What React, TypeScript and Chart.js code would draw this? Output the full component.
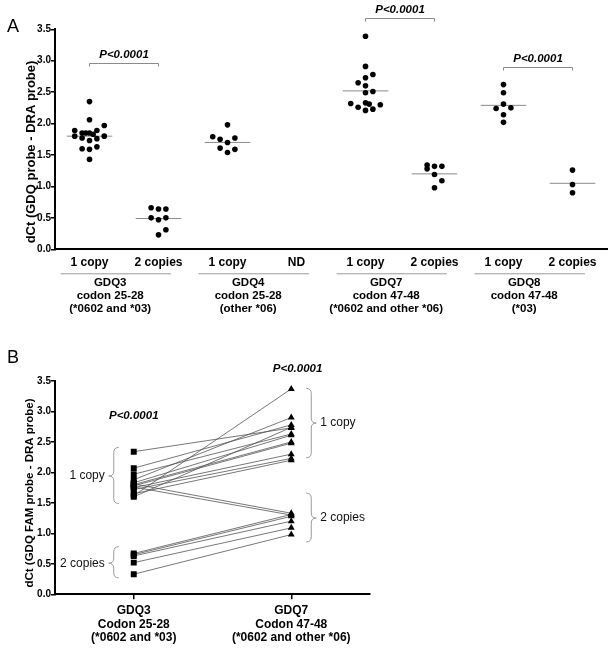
import React, { useEffect, useRef } from 'react';
import { Chart, registerables } from 'chart.js';

Chart.register(...registerables);

const FONT = "'Liberation Sans', Arial, Helvetica, sans-serif";
Chart.defaults.font.family = FONT;
Chart.defaults.color = '#000';

// ---------------- Panel A data ----------------
const tickLabelsA = ['1 copy', '2 copies', '1 copy', 'ND', '1 copy', '2 copies', '1 copy', '2 copies'];
const groupLabelsA = [
  ['GDQ3', 'codon 25-28', '(*0602 and *03)'],
  ['GDQ4', 'codon 25-28', '(other *06)'],
  ['GDQ7', 'codon 47-48', '(*0602 and other *06)'],
  ['GDQ8', 'codon 47-48', '(*03)'],
];
const gdq3OneCopy = [2.35, 2.06, 1.97, 1.89, 1.89, 1.85, 1.85, 1.85, 1.83, 1.80, 1.77, 1.73, 1.76, 1.80, 1.60, 1.59, 1.63, 1.43];
const gdq3OneCopyJitter = [0, 0, 2, -2, 1, -1, -0.5, 0, 0.5, -2, -1, 0, 1, 2, -1, 0, 1, 0];
const gdq3TwoCopies = [0.66, 0.64, 0.64, 0.50, 0.47, 0.50, 0.31, 0.23];
const gdq3TwoCopiesJitter = [-1, 0, 1, -1, 0, 1, 1, 0];
const gdq4OneCopy = [1.98, 1.79, 1.75, 1.77, 1.70, 1.61, 1.54, 1.59];
const gdq4OneCopyJitter = [0, -2, -1, 1, 0, -1, 0, 1];
const gdq7OneCopy = [3.39, 2.91, 2.73, 2.78, 2.65, 2.60, 2.49, 2.51, 2.32, 2.26, 2.33, 2.31, 2.30, 2.23, 2.21];
const gdq7OneCopyJitter = [0, 0, 0, 1, -1, 0, 0, 1, -2, -1, 0, 0.5, 2, 1, 0];
const gdq7TwoCopies = [1.34, 1.28, 1.32, 1.32, 1.19, 1.09, 0.98];
const gdq7TwoCopiesJitter = [-1, -1, 0, 1, 0, 1, 0];
const gdq8OneCopy = [2.62, 2.49, 2.31, 2.24, 2.25, 2.14, 2.02];
const gdq8OneCopyJitter = [0, 0, 0, -1, 1, 0, 0];
const gdq8TwoCopies = [1.26, 1.03, 0.90];
const gdq8TwoCopiesJitter = [0, 0, 0];
const mediansA = [1.80, 0.49, 1.70, null, 2.52, 1.20, 2.29, 1.05];
const bracketsA = [
  { from: 1, to: 2, y: 2.97, text: 'P<0.0001' },
  { from: 5, to: 6, y: 3.68, text: 'P<0.0001' },
  { from: 7, to: 8, y: 2.90, text: 'P<0.0001' },
];

// ---------------- Panel B data ----------------
const xLabelsB = [
  ['GDQ3', 'Codon 25-28', '(*0602 and *03)'],
  ['GDQ7', 'Codon 47-48', '(*0602 and other *06)'],
];
const gdq3Paired = [2.34, 2.07, 1.97, 1.88, 1.83, 1.80, 1.78, 1.75, 1.72, 1.65, 1.62, 1.60, 1.81, 1.76, 0.67, 0.65, 0.63, 0.52, 0.33];
const gdq7Paired = [2.73, 2.78, 2.63, 2.90, 2.61, 2.50, 2.48, 2.30, 2.23, 2.20, 3.37, 2.74, 1.33, 1.30, 1.31, 1.28, 1.20, 1.09, 0.98];
const pValuesB = [
  { x: 1, y: 2.93, text: 'P<0.0001' },
  { x: 2.04, y: 3.70, text: 'P<0.0001' },
];
const bracesB = [
  { at: 1, side: 'left', top: 2.41, bottom: 1.49, tip: 1.94, label: '1 copy' },
  { at: 1, side: 'left', top: 0.78, bottom: 0.27, tip: 0.51, label: '2 copies' },
  { at: 2, side: 'right', top: 3.38, bottom: 2.24, tip: 2.81, label: '1 copy' },
  { at: 2, side: 'right', top: 1.66, bottom: 0.86, tip: 1.25, label: '2 copies' },
];

const JITTER_STEP = 0.107;

function buildConfigA(): any {
  const groups = [
    { pos: 1, values: gdq3OneCopy, jitter: gdq3OneCopyJitter },
    { pos: 2, values: gdq3TwoCopies, jitter: gdq3TwoCopiesJitter },
    { pos: 3, values: gdq4OneCopy, jitter: gdq4OneCopyJitter },
    { pos: 5, values: gdq7OneCopy, jitter: gdq7OneCopyJitter },
    { pos: 6, values: gdq7TwoCopies, jitter: gdq7TwoCopiesJitter },
    { pos: 7, values: gdq8OneCopy, jitter: gdq8OneCopyJitter },
    { pos: 8, values: gdq8TwoCopies, jitter: gdq8TwoCopiesJitter },
  ];
  const dots = groups.flatMap((g) => g.values.map((v, i) => ({ x: g.pos + g.jitter[i] * JITTER_STEP, y: v })));
  const medianSets = mediansA
    .map((m, i) => ({ m, pos: i + 1 }))
    .filter((d) => d.m !== null)
    .map((d) => ({
      data: [
        { x: d.pos - 0.33, y: d.m },
        { x: d.pos + 0.33, y: d.m },
      ],
      showLine: true,
      borderColor: '#8a8a8a',
      borderWidth: 1,
      pointRadius: 0,
      order: 2,
    }));

  const plugin = {
    id: 'panelA',
    afterDraw(chart: any) {
      const { ctx, scales } = chart;
      const x = scales.x;
      const y = scales.y;
      ctx.save();
      ctx.fillStyle = '#000';
      ctx.font = `18px ${FONT}`;
      ctx.textAlign = 'left';
      ctx.textBaseline = 'alphabetic';
      ctx.fillText('A', 7, 32);

      // y title
      ctx.save();
      ctx.translate(31, 152);
      ctx.rotate(-Math.PI / 2);
      ctx.font = `bold 13px ${FONT}`;
      ctx.textAlign = 'center';
      ctx.textBaseline = 'middle';
      ctx.fillText('dCt (GDQ probe - DRA probe)', 0, 0);
      ctx.restore();

      // group labels
      const base = y.bottom;
      groupLabelsA.forEach((lines, i) => {
        const mid = 2 * i + 1.5;
        const x1 = x.getPixelForValue(mid - 0.92);
        const x2 = x.getPixelForValue(mid + 0.68);
        ctx.strokeStyle = '#9a9a9a';
        ctx.lineWidth = 1;
        ctx.beginPath();
        ctx.moveTo(x1, base + 24.5);
        ctx.lineTo(x2, base + 24.5);
        ctx.stroke();
        ctx.font = `bold 11.5px ${FONT}`;
        ctx.textAlign = 'center';
        ctx.textBaseline = 'middle';
        const cx = x.getPixelForValue(mid - 0.2);
        lines.forEach((t, k) => ctx.fillText(t, cx, base + 34 + k * 12.8));
      });

      // brackets
      bracketsA.forEach((b) => {
        const x1 = x.getPixelForValue(b.from);
        const x2 = x.getPixelForValue(b.to);
        const py = Math.round(y.getPixelForValue(b.y)) + 0.5;
        ctx.strokeStyle = '#8a8a8a';
        ctx.lineWidth = 1;
        ctx.beginPath();
        ctx.moveTo(x1, py + 3);
        ctx.lineTo(x1, py);
        ctx.lineTo(x2, py);
        ctx.lineTo(x2, py + 3);
        ctx.stroke();
        ctx.font = `italic bold 11.5px ${FONT}`;
        ctx.textAlign = 'center';
        ctx.textBaseline = 'middle';
        ctx.fillStyle = '#000';
        ctx.fillText(b.text, (x1 + x2) / 2, py - 8.5);
      });
      ctx.restore();
    },
  };

  return {
    type: 'scatter',
    data: {
      datasets: [
        {
          data: dots,
          pointRadius: 2.8,
          pointBackgroundColor: '#000',
          pointBorderWidth: 0,
          order: 1,
        },
        ...medianSets,
      ],
    },
    options: {
      responsive: false,
      animation: false,
      events: [],
      layout: { padding: { top: 29.3, right: 7, left: 0, bottom: 0 } },
      plugins: { legend: { display: false }, tooltip: { enabled: false } },
      scales: {
        x: {
          type: 'linear',
          min: 0.5,
          max: 8.5,
          grid: { display: false, drawTicks: false },
          border: { display: true, color: '#000', width: 2 },
          afterBuildTicks: (s: any) => {
            s.ticks = tickLabelsA.map((_, i) => ({ value: i + 1 }));
          },
          ticks: {
            autoSkip: false,
            maxRotation: 0,
            padding: 6.5,
            color: '#000',
            font: { size: 12, weight: 'bold' },
            callback: (v: any) => tickLabelsA[Math.round(v) - 1] ?? '',
          },
          afterFit: (s: any) => {
            s.height = 75.7;
          },
        },
        y: {
          min: 0,
          max: 3.5,
          grid: { display: true, drawOnChartArea: false, tickLength: 4, color: '#000', lineWidth: 1.5 },
          border: { display: true, color: '#000', width: 2 },
          ticks: {
            stepSize: 0.5,
            padding: 0,
            color: '#000',
            font: { size: 10, weight: 'bold' },
            callback: (v: any) => Number(v).toFixed(1),
          },
          afterFit: (s: any) => {
            s.width = 55;
          },
        },
      },
    },
    plugins: [plugin],
  };
}

function buildConfigB(): any {
  const pairSets = gdq3Paired.map((a, i) => ({
    data: [
      { x: 1, y: a },
      { x: 2, y: gdq7Paired[i] },
    ],
    showLine: true,
    borderColor: '#555',
    borderWidth: 0.8,
    pointRadius: 0,
    order: 2,
  }));
  const squares = {
    data: gdq3Paired.map((v) => ({ x: 1, y: v })),
    pointStyle: 'rect',
    pointRadius: 4.2,
    pointBackgroundColor: '#000',
    pointBorderWidth: 0,
    order: 1,
  };
  const triangles = {
    data: gdq7Paired.map((v) => ({ x: 2, y: v })),
    pointStyle: 'triangle',
    pointRadius: 4,
    pointBackgroundColor: '#000',
    pointBorderWidth: 0,
    order: 1,
  };

  const plugin = {
    id: 'panelB',
    afterDraw(chart: any) {
      const { ctx, scales } = chart;
      const x = scales.x;
      const y = scales.y;
      ctx.save();
      ctx.fillStyle = '#000';
      ctx.font = `18px ${FONT}`;
      ctx.textAlign = 'left';
      ctx.textBaseline = 'alphabetic';
      ctx.fillText('B', 7, 38);

      ctx.save();
      ctx.translate(30, 168);
      ctx.rotate(-Math.PI / 2);
      ctx.font = `bold 11.5px ${FONT}`;
      ctx.textAlign = 'center';
      ctx.textBaseline = 'middle';
      ctx.fillText('dCt (GDQ FAM probe - DRA probe)', 0, 0);
      ctx.restore();

      pValuesB.forEach((p) => {
        ctx.font = `italic bold 11.5px ${FONT}`;
        ctx.textAlign = 'center';
        ctx.textBaseline = 'middle';
        ctx.fillText(p.text, x.getPixelForValue(p.x), y.getPixelForValue(p.y));
      });

      bracesB.forEach((b) => {
        const d = b.side === 'left' ? -1 : 1;
        const cx = x.getPixelForValue(b.at);
        const xv = cx + d * 20;
        const t = y.getPixelForValue(b.top);
        const bt = y.getPixelForValue(b.bottom);
        const tp = y.getPixelForValue(b.tip);
        const r = 5;
        ctx.strokeStyle = '#9a9a9a';
        ctx.lineWidth = 1;
        ctx.beginPath();
        ctx.moveTo(xv - d * r, t);
        ctx.quadraticCurveTo(xv, t, xv, t + r);
        ctx.lineTo(xv, tp - r);
        ctx.quadraticCurveTo(xv, tp, xv + d * r, tp);
        ctx.quadraticCurveTo(xv, tp, xv, tp + r);
        ctx.lineTo(xv, bt - r);
        ctx.quadraticCurveTo(xv, bt, xv - d * r, bt);
        ctx.stroke();
        ctx.fillStyle = '#111';
        ctx.font = `12px ${FONT}`;
        ctx.textBaseline = 'middle';
        ctx.textAlign = d < 0 ? 'right' : 'left';
        ctx.fillText(b.label, xv + d * (r + 4), tp);
      });
      ctx.restore();
    },
  };

  return {
    type: 'scatter',
    data: { datasets: [squares, triangles, ...pairSets] },
    options: {
      responsive: false,
      animation: false,
      events: [],
      layout: { padding: { top: 56, right: 244, left: 0, bottom: 0 } },
      plugins: { legend: { display: false }, tooltip: { enabled: false } },
      scales: {
        x: {
          type: 'linear',
          min: 0.5,
          max: 2.5,
          grid: { display: true, drawOnChartArea: false, tickLength: 5, color: '#000', lineWidth: 1.5 },
          border: { display: true, color: '#000', width: 2 },
          afterBuildTicks: (s: any) => {
            s.ticks = xLabelsB.map((_, i) => ({ value: i + 1 }));
          },
          ticks: {
            autoSkip: false,
            maxRotation: 0,
            padding: 5,
            color: '#000',
            font: { size: 12, weight: 'bold', lineHeight: 1.125 },
            callback: (v: any) => xLabelsB[Math.round(v) - 1] ?? '',
          },
          afterFit: (s: any) => {
            s.height = 57.7;
          },
        },
        y: {
          min: 0,
          max: 3.5,
          grid: { display: true, drawOnChartArea: false, tickLength: 4, color: '#000', lineWidth: 1.5 },
          border: { display: true, color: '#000', width: 2 },
          ticks: {
            stepSize: 0.5,
            padding: 0,
            color: '#000',
            font: { size: 10, weight: 'bold' },
            callback: (v: any) => Number(v).toFixed(1),
          },
          afterFit: (s: any) => {
            s.width = 55;
          },
        },
      },
    },
    plugins: [plugin],
  };
}

export default function App() {
  const refA = useRef<HTMLCanvasElement>(null);
  const refB = useRef<HTMLCanvasElement>(null);
  useEffect(() => {
    const a = new Chart(refA.current as HTMLCanvasElement, buildConfigA());
    const b = new Chart(refB.current as HTMLCanvasElement, buildConfigB());
    return () => {
      a.destroy();
      b.destroy();
    };
  }, []);
  return (
    <div style={{ position: 'absolute', left: 0, top: 0, width: 614, height: 652, background: '#fff' }}>
      <canvas ref={refA} width={614} height={325} style={{ position: 'absolute', left: 0, top: 0 }} />
      <canvas ref={refB} width={614} height={327} style={{ position: 'absolute', left: 0, top: 325 }} />
    </div>
  );
}
